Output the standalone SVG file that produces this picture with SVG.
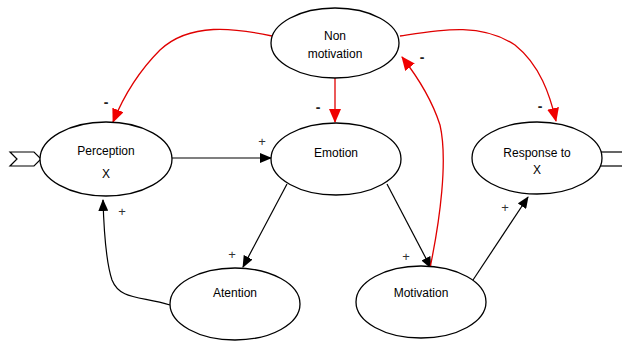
<svg xmlns="http://www.w3.org/2000/svg" width="622" height="342" viewBox="0 0 622 342">
<style>
.node{fill:#fff;stroke:#000;stroke-width:1.3}
.t{font-family:"Liberation Sans",Arial,sans-serif;font-size:12px;fill:#000;text-anchor:middle}
.s{font-family:"Liberation Sans",Arial,sans-serif;font-size:13px;fill:#333;text-anchor:middle}
.m{font-family:"Liberation Sans",Arial,sans-serif;font-size:14px;font-weight:bold;fill:#222;text-anchor:middle}
.b{fill:none;stroke:#000;stroke-width:1.2}
.r{fill:none;stroke:#e00000;stroke-width:1.3}
</style>
<defs>
<marker id="ab" markerWidth="12" markerHeight="10" refX="11" refY="5" orient="auto" markerUnits="userSpaceOnUse"><path d="M0,0 L12,5 L0,10 z" fill="#000"/></marker>
<marker id="ar" markerWidth="14" markerHeight="12" refX="13" refY="6" orient="auto" markerUnits="userSpaceOnUse"><path d="M0,0 L14,6 L0,12 z" fill="#f00000"/></marker>
</defs>
<rect width="622" height="342" fill="#fff"/>
<g id="connectors">
<path class="b" d="M172,158 L271,158" marker-end="url(#ab)"/>
<path class="b" d="M287,184 L243,267" marker-end="url(#ab)"/>
<path class="b" d="M170,305 C140,296 120,300 112,280 C106,262 104,235 103,200" marker-end="url(#ab)"/>
<path class="b" d="M387,184 L431,268" marker-end="url(#ab)"/>
<path class="b" d="M473,280 L528,197" marker-end="url(#ab)"/>
<path class="r" d="M272,36 C235,28 190,22 160,50 C138,72 122,100 113,122" marker-end="url(#ar)"/>
<path class="r" d="M335,78 L335,122" marker-end="url(#ar)"/>
<path class="r" d="M400,36 C440,30 480,22 515,45 C540,65 550,95 556,121" marker-end="url(#ar)"/>
<path class="r" d="M430,268 C440,220 448,160 440,125 C432,100 420,80 402,57" marker-end="url(#ar)"/>
<text class="s" x="262" y="146">+</text>
<text class="s" x="232" y="259">+</text>
<text class="s" x="122" y="216">+</text>
<text class="s" x="406" y="261">+</text>
<text class="s" x="505" y="212">+</text>
<text class="m" x="106" y="107">-</text>
<text class="m" x="318" y="112">-</text>
<text class="m" x="540" y="111">-</text>
<text class="m" x="422" y="62">-</text>
</g>
<g id="input"><path d="M10,152 L34,152 L41,159 L34,166 L10,166 L17,159 z" fill="#fff" stroke="#000" stroke-width="1.2"/></g>
<g id="output"><rect x="598" y="152" width="30" height="14" fill="#fff" stroke="#000" stroke-width="1.2"/></g>
<g id="perception"><ellipse class="node" cx="106" cy="159" rx="66" ry="37"/><text class="t" x="106" y="155">Perception</text><text class="t" x="106" y="178">X</text></g>
<g id="nonmotivation"><ellipse class="node" cx="335" cy="43" rx="64" ry="35"/><text class="t" x="335" y="40">Non</text><text class="t" x="335" y="58">motivation</text></g>
<g id="emotion"><ellipse class="node" cx="336" cy="159" rx="65" ry="36"/><text class="t" x="336" y="157">Emotion</text></g>
<g id="response"><ellipse class="node" cx="537" cy="158" rx="65" ry="36"/><text class="t" x="537" y="157">Response to</text><text class="t" x="537" y="174">X</text></g>
<g id="atention"><ellipse class="node" cx="235" cy="304" rx="65" ry="36"/><text class="t" x="235" y="297">Atention</text></g>
<g id="motivation"><ellipse class="node" cx="421" cy="302" rx="65" ry="36"/><text class="t" x="421" y="297">Motivation</text></g>
</svg>
